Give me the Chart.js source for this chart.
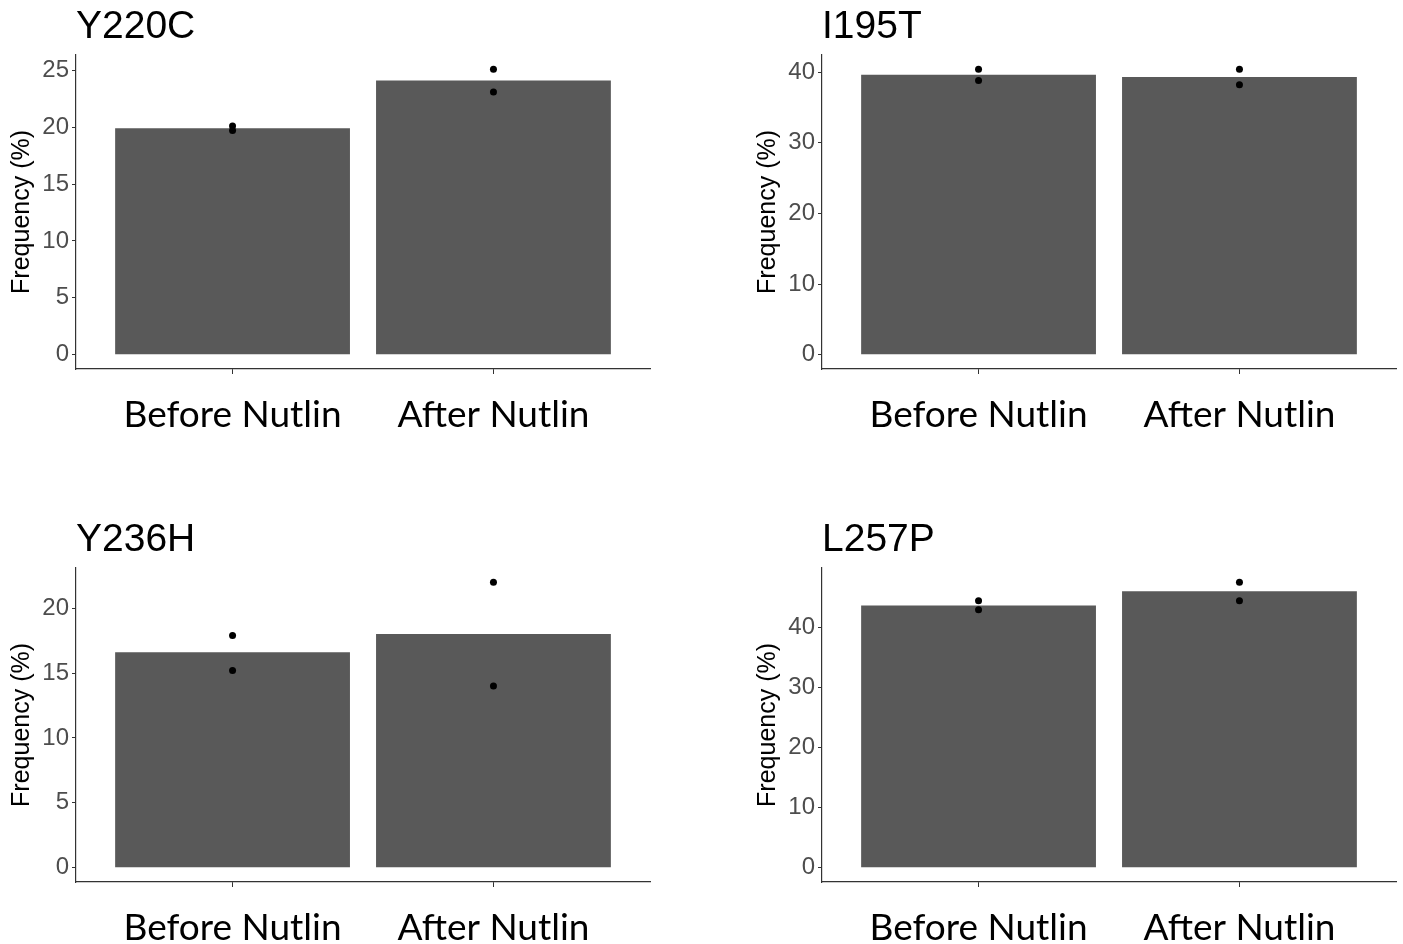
<!DOCTYPE html>
<html>
<head>
<meta charset="utf-8">
<script src="https://cdn.jsdelivr.net/npm/chart.js@4.4.1/dist/chart.umd.min.js"></script>
<style>
  body { margin: 0; background: #fff; width: 1403px; height: 944px; position: relative; overflow: hidden; }
  .panel { position: absolute; width: 657px; height: 431px; }
</style>
</head>
<body>
<div class="panel" style="left:0;top:0"><canvas id="c1"></canvas></div>
<div class="panel" style="left:746px;top:0"><canvas id="c2"></canvas></div>
<div class="panel" style="left:0;top:513px"><canvas id="c3"></canvas></div>
<div class="panel" style="left:746px;top:513px"><canvas id="c4"></canvas></div>
<script>
// categories
const categories = ['Before Nutlin', 'After Nutlin'];

// Y220C
const meanY220C = [19.9, 24.1];
const repsY220C = [[19.7, 20.1], [23.1, 25.1]];
const ticksY220C = [0, 5, 10, 15, 20, 25];

// I195T
const meanI195T = [39.6, 39.3];
const repsI195T = [[38.8, 40.4], [38.2, 40.4]];
const ticksI195T = [0, 10, 20, 30, 40];

// Y236H
const meanY236H = [16.6, 18.0];
const repsY236H = [[15.2, 17.9], [14.0, 22.0]];
const ticksY236H = [0, 5, 10, 15, 20];

// L257P
const meanL257P = [43.6, 46.0];
const repsL257P = [[42.9, 44.4], [44.4, 47.5]];
const ticksL257P = [0, 10, 20, 30, 40];

const axisColor = '#333333';

function makePanel(id, title, means, reps, yTicks) {
  const bars = means.map((v, i) => ({ x: i + 1, y: v }));
  const pts = [];
  reps.forEach((r, i) => r.forEach(v => pts.push({ x: i + 1, y: v })));
  // ggplot-like 5% expansion of the data range
  const top = Math.max(...means, ...pts.map(p => p.y));
  const ymin = -0.05 * top, ymax = 1.05 * top;

  new Chart(document.getElementById(id), {
    type: 'bar',
    data: {
      datasets: [{
        type: 'bar',
        data: bars,
        backgroundColor: '#595959',
        borderWidth: 0,
        barPercentage: 0.9,
        categoryPercentage: 1.0,
        order: 2
      }, {
        type: 'scatter',
        data: pts,
        pointRadius: 3.5,
        pointBackgroundColor: '#000',
        pointBorderWidth: 0,
        order: 1
      }]
    },
    options: {
      responsive: true,
      maintainAspectRatio: false,
      animation: false,
      layout: { padding: { left: 0, right: 7, top: 0, bottom: 0 } },
      plugins: {
        legend: { display: false },
        tooltip: { enabled: false },
        title: {
          display: true,
          text: title,
          align: 'start',
          fullSize: false,
          color: '#000',
          font: { family: 'Liberation Sans', size: 39, weight: 'normal', lineHeight: 1.1 },
          padding: { top: 6, bottom: 6 }
        }
      },
      scales: {
        x: {
          type: 'linear',
          min: 0.4,
          max: 2.6,
          offset: false,
          afterBuildTicks: s => { s.ticks = categories.map((c, i) => ({ value: i + 1 })); },
          afterFit: s => { s.height = 62; },
          ticks: {
            callback: v => categories[v - 1],
            color: '#000',
            font: { family: 'Lato', size: 37 },
            padding: 19,
            maxRotation: 0,
            autoSkip: false
          },
          grid: { display: true, offset: false, drawOnChartArea: false, drawTicks: true, tickLength: 5, color: axisColor },
          border: { display: true, color: axisColor, width: 1.2 }
        },
        y: {
          type: 'linear',
          min: ymin,
          max: ymax,
          afterBuildTicks: s => { s.ticks = yTicks.map(v => ({ value: v })); },
          afterFit: s => { s.width = 76; },
          ticks: {
            color: '#4d4d4d',
            font: { family: 'Liberation Sans', size: 24 },
            padding: 3
          },
          grid: { display: true, drawOnChartArea: false, drawTicks: true, tickLength: 4, color: axisColor },
          border: { display: true, color: axisColor, width: 1.2 },
          title: {
            display: true,
            text: 'Frequency (%)',
            color: '#000',
            font: { family: 'Liberation Sans', size: 25, lineHeight: 1.0 },
            padding: { top: 10, bottom: 0 }
          }
        }
      }
    }
  });
}

makePanel('c1', 'Y220C', meanY220C, repsY220C, ticksY220C);
makePanel('c2', 'I195T', meanI195T, repsI195T, ticksI195T);
makePanel('c3', 'Y236H', meanY236H, repsY236H, ticksY236H);
makePanel('c4', 'L257P', meanL257P, repsL257P, ticksL257P);
</script>
</body>
</html>
